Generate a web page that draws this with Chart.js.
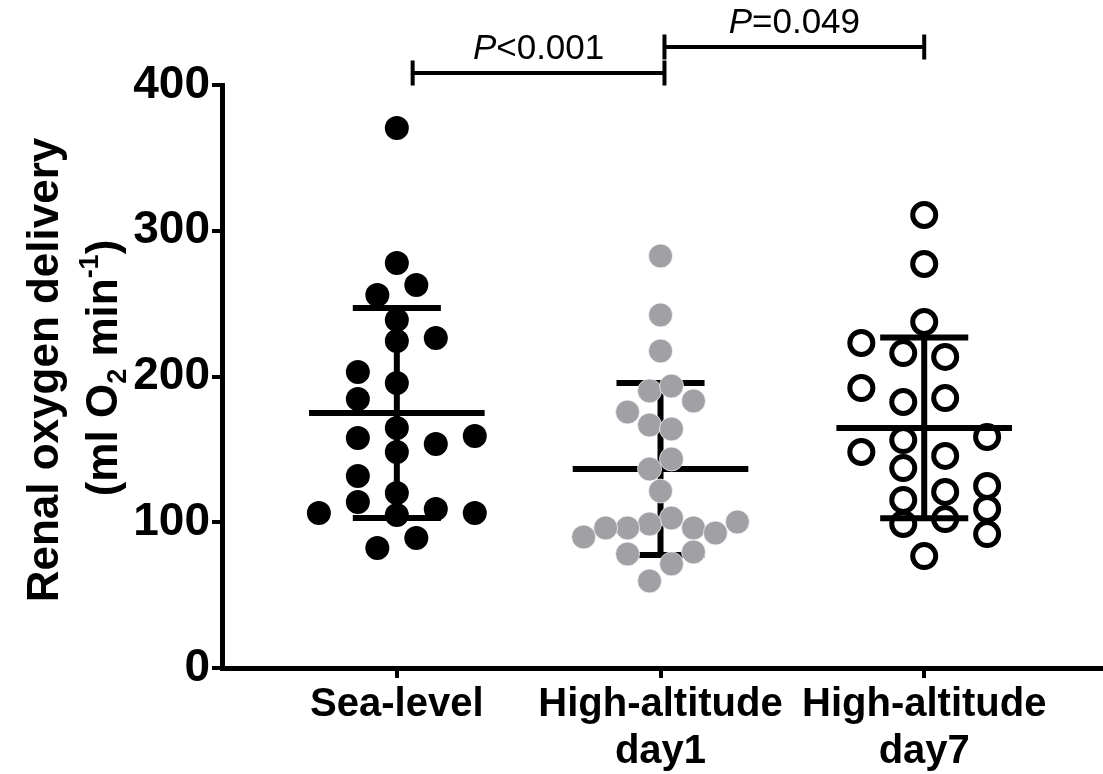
<!DOCTYPE html>
<html>
<head>
<meta charset="utf-8">
<script src="https://cdn.jsdelivr.net/npm/chart.js@4.4.1/dist/chart.umd.min.js"></script>
<style>
html,body{margin:0;padding:0;background:#fff;}
#wrap{width:1103px;height:774px;position:relative;}
</style>
</head>
<body>
<div id="wrap"><canvas id="c"></canvas></div>
<script>
// ---------- data ----------
const categories = [["Sea-level"], ["High-altitude", "day1"], ["High-altitude", "day7"]];
const yTickValues = [0, 100, 200, 300, 400];

const seaLevel = [370.5, 277.9, 262.8, 255.9, 238.8, 224.4, 226.4, 203.1, 195.5, 184.6, 164.7, 157.8,
                  153.7, 159.2, 148.2, 131.7, 120.1, 113.9, 106.3, 105.0, 109.1, 106.3, 89.2, 82.3];
const seaLevelLane = [0, 0, 1, -1, 0, 0, 2, -2, 0, -2, 0, -2,
                      2, 4, 0, -2, 0, -2, -4, 0, 2, 4, 1, -1];

const day1 = [282.7, 242.2, 217.5, 190.1, 193.5, 183.2, 175.6, 166.7, 164.0, 143.4, 136.5, 121.4,
              102.9, 98.8, 96.1, 96.1, 89.9, 96.1, 92.6, 100.2, 78.2, 79.6, 71.4, 59.7];
const day1Lane = [0, 0, 0, -0.5, 0.5, 1.5, -1.5, -0.5, 0.5, 0.5, -0.5, 0,
                  0.5, -0.5, -1.5, -2.5, -3.5, 1.5, 2.5, 3.5, -1.5, 1.5, 0.5, -0.5];

const day7 = [310.8, 277.2, 237.4, 223.0, 216.1, 213.4, 192.1, 182.5, 185.2, 158.5, 156.4, 148.2,
              145.5, 137.2, 120.8, 124.9, 115.3, 109.1, 102.2, 98.8, 91.9, 76.8];
const day7Lane = [0, 0, 0, -3, -1, 1, -3, -1, 1, 3, -1, -3,
                  1, -1, 1, 3, -1, 3, 1, -1, 3, 0];

const groupMeans = [175.0, 136.5, 164.7];
const groupSD = [72.0, 59.0, 62.0];

const pLabels = ["<0.001", "=0.049"];

// ---------- layout helpers ----------
const laneWidth = [0.0739, 0.0833, 0.0795];
const FONT = "'Liberation Sans', Arial, Helvetica, sans-serif";

function toPoints(values, lanes, g) {
  return values.map((v, i) => ({ x: (g + 1) + lanes[i] * laneWidth[g], y: v }));
}

const meanSdPlugin = {
  id: 'meanSd',
  beforeDatasetsDraw(chart) {
    const { ctx, scales: { x, y } } = chart;
    ctx.save();
    ctx.strokeStyle = '#000';
    ctx.lineWidth = 6;
    ctx.lineCap = 'butt';
    groupMeans.forEach((m, g) => {
      const cx = g + 1;
      const sd = groupSD[g];
      const px = x.getPixelForValue(cx);
      ctx.beginPath();
      ctx.moveTo(px, y.getPixelForValue(m + sd));
      ctx.lineTo(px, y.getPixelForValue(m - sd));
      ctx.stroke();
      ctx.beginPath();
      ctx.moveTo(x.getPixelForValue(cx - 0.333), y.getPixelForValue(m));
      ctx.lineTo(x.getPixelForValue(cx + 0.333), y.getPixelForValue(m));
      ctx.stroke();
      [m + sd, m - sd].forEach(v => {
        ctx.beginPath();
        ctx.moveTo(x.getPixelForValue(cx - 0.167), y.getPixelForValue(v));
        ctx.lineTo(x.getPixelForValue(cx + 0.167), y.getPixelForValue(v));
        ctx.stroke();
      });
    });
    ctx.restore();
  }
};

const annotPlugin = {
  id: 'annot',
  afterDraw(chart) {
    const { ctx, scales: { x, y } } = chart;
    ctx.save();
    // significance brackets
    const brackets = [
      { x1: 1.06, x2: 2.015, yv: 408.2, label: pLabels[0] },
      { x1: 2.015, x2: 3.0, yv: 426.1, label: pLabels[1] }
    ];
    ctx.strokeStyle = '#000';
    ctx.fillStyle = '#000';
    ctx.lineWidth = 4;
    brackets.forEach(b => {
      const a = x.getPixelForValue(b.x1), c = x.getPixelForValue(b.x2), py = y.getPixelForValue(b.yv);
      ctx.beginPath();
      ctx.moveTo(a, py); ctx.lineTo(c, py);
      ctx.moveTo(a, py - 12.5); ctx.lineTo(a, py + 12.5);
      ctx.moveTo(c, py - 12.5); ctx.lineTo(c, py + 12.5);
      ctx.stroke();
      const fI = 'italic 35px ' + FONT, fR = '35px ' + FONT;
      ctx.font = fI; const wP = ctx.measureText('P').width;
      ctx.font = fR; const wR = ctx.measureText(b.label).width;
      const start = (a + c) / 2 - (wP + wR) / 2;
      ctx.textBaseline = 'alphabetic';
      ctx.textAlign = 'left';
      ctx.font = fI; ctx.fillText('P', start, py - 14);
      ctx.font = fR; ctx.fillText(b.label, start + wP, py - 14);
    });
    // y axis title (rotated, with sub/superscripts)
    const size = 44;
    const main = 'bold ' + size + 'px ' + FONT;
    const small = 'bold ' + Math.round(size * 0.62) + 'px ' + FONT;
    const drawLine = (segs, cx, cy) => {
      ctx.save();
      ctx.translate(cx, cy);
      ctx.rotate(-Math.PI / 2);
      ctx.textBaseline = 'middle';
      ctx.textAlign = 'left';
      let total = 0;
      segs.forEach(s => { ctx.font = s.k ? small : main; s.w = ctx.measureText(s.t).width; total += s.w; });
      let px = -total / 2;
      segs.forEach(s => {
        ctx.font = s.k ? small : main;
        const dy = s.k === 'sub' ? size * 0.3 : (s.k === 'sup' ? -size * 0.32 : 0);
        ctx.fillText(s.t, px, dy);
        px += s.w;
      });
      ctx.restore();
    };
    drawLine([{ t: 'Renal oxygen delivery' }], 46, 370);
    drawLine([{ t: '(ml O' }, { t: '2', k: 'sub' }, { t: ' min' }, { t: '-1', k: 'sup' }, { t: ')' }], 105, 368);
    ctx.restore();
  }
};

new Chart(document.getElementById('c'), {
  type: 'scatter',
  data: {
    datasets: [
      {
        data: toPoints(seaLevel, seaLevelLane, 0),
        pointRadius: 12, pointHoverRadius: 12,
        pointBackgroundColor: '#000', pointBorderColor: '#000', pointBorderWidth: 0,
        clip: false
      },
      {
        data: toPoints(day1, day1Lane, 1),
        pointRadius: 12, pointHoverRadius: 12,
        pointBackgroundColor: '#a0a0a5', pointBorderColor: 'rgba(255,255,255,0.7)', pointBorderWidth: 1,
        clip: false
      },
      {
        data: toPoints(day7, day7Lane, 2),
        pointRadius: 11.5, pointHoverRadius: 11.5,
        pointBackgroundColor: 'rgba(0,0,0,0)', pointBorderColor: '#000', pointBorderWidth: 5,
        clip: false
      }
    ]
  },
  options: {
    responsive: true,
    maintainAspectRatio: false,
    animation: false,
    events: [],
    layout: { autoPadding: false, padding: { top: 85, left: 0, right: 0, bottom: 0 } },
    plugins: { legend: { display: false }, tooltip: { enabled: false } },
    scales: {
      x: {
        type: 'linear',
        min: 0.337, max: 3.678,
        afterBuildTicks: s => { s.ticks = categories.map((c, i) => ({ value: i + 1 })); },
        afterFit: s => { s.height = 106; s.paddingLeft = 0; s.paddingRight = 0; },
        ticks: {
          color: '#000',
          font: { family: FONT, size: 40, weight: 'bold', lineHeight: 1.18 },
          padding: 3,
          maxRotation: 0,
          autoSkip: false,
          callback: v => categories[Math.round(v) - 1] || ''
        },
        grid: { display: true, drawOnChartArea: false, drawTicks: true, tickLength: 10, color: '#000', lineWidth: 4 },
        border: { display: true, color: '#000', width: 5 }
      },
      y: {
        type: 'linear',
        min: 0, max: 400,
        afterBuildTicks: s => { s.ticks = yTickValues.map(v => ({ value: v })); },
        afterFit: s => { s.width = 222; s.paddingTop = 0; s.paddingBottom = 0; },
        ticks: {
          color: '#000',
          font: { family: FONT, size: 46, weight: 'bold' },
          padding: 2
        },
        grid: { display: true, drawOnChartArea: false, drawTicks: true, tickLength: 10, color: '#000', lineWidth: 4 },
        border: { display: true, color: '#000', width: 5 }
      }
    }
  },
  plugins: [meanSdPlugin, annotPlugin]
});
</script>
</body>
</html>
